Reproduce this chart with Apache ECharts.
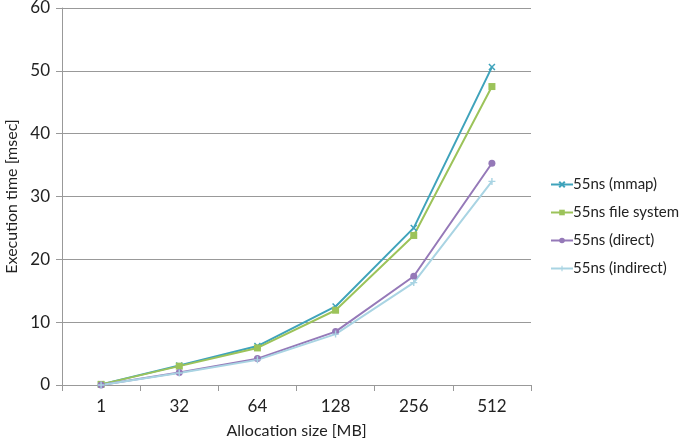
<!DOCTYPE html>
<html><head><meta charset="utf-8">
<script src="https://cdn.jsdelivr.net/npm/echarts@6/dist/echarts.min.js"></script>
<style>html,body{margin:0;padding:0;background:#fff}#c{width:685px;height:444px}</style>
</head><body><div id="c"></div>
<script>
const categories = ['1','32','64','128','256','512'];
const mmap = [0.1, 3.1, 6.2, 12.5, 25.0, 50.6];
const fileSystem = [0.1, 3.0, 5.9, 11.9, 23.8, 47.5];
const direct = [0.0, 2.0, 4.2, 8.5, 17.3, 35.3];
const indirect = [0.0, 1.9, 4.0, 8.1, 16.3, 32.4];
const yTicks = [0, 10, 20, 30, 40, 50, 60];

const font = 'Lato, "Open Sans", sans-serif';
const xPath = 'path://M0,0L10,10M10,0L0,10';
const plusPath = 'path://M4,0H6V4H10V6H6V10H4V6H0V4H4Z';
function mk(name, data, color, symbol, size){
  return {name, type:'line', data, symbol, symbolSize:size,
    lineStyle:{color, width:2}, itemStyle:{color, borderColor:color, borderWidth: symbol===xPath?1.5:0},
    emphasis:{disabled:true}, z: 2};
}
const chart = echarts.init(document.getElementById('c'));
chart.setOption({
  animation:false,
  textStyle:{fontFamily:font},
  grid:{left:62, right:154, top:8, bottom:59, containLabel:false, outerBoundsMode:'none'},
  legend:{orient:'vertical', left:545, top:172, itemGap:13, itemWidth:22, itemHeight:7,
    textStyle:{fontSize:15, color:'#222', fontFamily:font, padding:[0,0,0,-5]},
    data:['55ns (mmap)','55ns file system','55ns (direct)','55ns (indirect)']},
  xAxis:{type:'category', data:categories, boundaryGap:true,
    name:'Allocation size [MB]', nameLocation:'middle', nameGap:38,
    nameTextStyle:{fontSize:16, color:'#222'},
    axisLine:{lineStyle:{color:'#999', width:1}},
    axisTick:{show:true, length:6, lineStyle:{color:'#999'}, alignWithLabel:false},
    axisLabel:{fontSize:17, color:'#222', margin:13}},
  yAxis:{type:'value', min:yTicks[0], max:yTicks[yTicks.length-1], interval:10,
    name:'Execution time [msec]', nameLocation:'middle', nameGap:41,
    nameTextStyle:{fontSize:16, color:'#222'},
    axisLine:{show:true, lineStyle:{color:'#999'}},
    axisTick:{show:true, length:6, inside:false, lineStyle:{color:'#999'}},
    axisLabel:{fontSize:17, color:'#222', margin:12},
    splitLine:{lineStyle:{color:'#999', width:1}}},
  series:[
    mk('55ns (mmap)', mmap, '#3fa3bb', xPath, 6),
    mk('55ns file system', fileSystem, '#9cc35a', 'rect', 7),
    mk('55ns (direct)', direct, '#9579b8', 'circle', 7),
    mk('55ns (indirect)', indirect, '#a9d4e3', plusPath, 7)
  ]
});
</script></body></html>
